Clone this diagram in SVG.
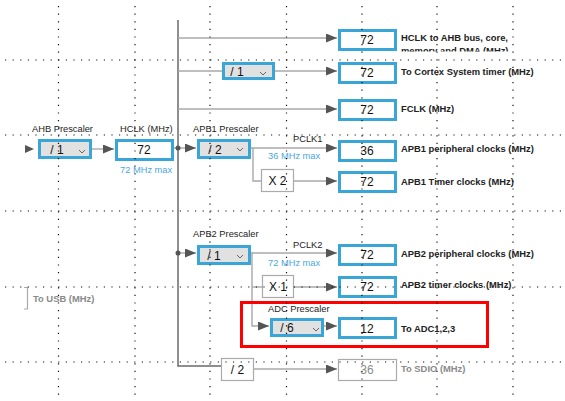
<svg xmlns="http://www.w3.org/2000/svg" width="565" height="401" viewBox="0 0 565 401">
<style>
.lbl{font-family:"Liberation Sans",Arial,sans-serif;font-size:9.3px;fill:#222}
.out{font-family:"Liberation Sans",Arial,sans-serif;font-size:9.4px;font-weight:bold;fill:#222}
.gout{font-family:"Liberation Sans",Arial,sans-serif;font-size:9.4px;font-weight:bold;fill:#8a8a8a}
.max{font-family:"Liberation Sans",Arial,sans-serif;font-size:9.3px;fill:#4aa8e0}
.val{font-family:"Liberation Sans",Arial,sans-serif;font-size:12px;fill:#111;text-anchor:middle}
.gval{font-family:"Liberation Sans",Arial,sans-serif;font-size:12px;fill:#8a8a8a;text-anchor:middle}
.dd{fill:#e1e1e1;stroke:#3aa6d8;stroke-width:3}
.bx{fill:#fff;stroke:#3aa6d8;stroke-width:3}
.gb{fill:#fff;stroke:#aaa;stroke-width:1.2}
.chev{fill:none;stroke:#666;stroke-width:1}
.ln{fill:none;stroke:#a8a8a8;stroke-width:1.4}
.bus{fill:none;stroke:#6a6a6a;stroke-width:1.5}
.grid{stroke:#111;stroke-width:1.2;stroke-dasharray:1.2 6.4}
</style>
<defs>
<marker id="ah" markerUnits="userSpaceOnUse" markerWidth="11" markerHeight="9" refX="11" refY="4.5" orient="auto">
<path d="M0,0 L11,4.5 L0,9 z" fill="#555"/>
</marker>
<clipPath id="c1"><rect x="398" y="25" width="167" height="26.5"/></clipPath>
</defs>
<rect width="565" height="401" fill="#fff"/>

<g id="connectors">
<path class="bus" d="M178,20 V366 H221"/>
<path class="ln" d="M178,38 H337" marker-end="url(#ah)"/>
<path class="ln" d="M178,71 H222"/>
<path class="ln" d="M275,71 H337" marker-end="url(#ah)"/>
<path class="ln" d="M178,109 H337" marker-end="url(#ah)"/>
<path d="M25,145 L34,149 L25,153 z" fill="#555"/>
<path class="ln" d="M92,149 H114" marker-end="url(#ah)"/>
<path class="ln" d="M174,148 H196" marker-end="url(#ah)"/>
<circle cx="178" cy="148" r="2.5" fill="#555"/>
<path class="ln" d="M251,148 H337" marker-end="url(#ah)"/>
<path class="ln" d="M253,148 V181 H261"/>
<path class="ln" d="M294,181 H337" marker-end="url(#ah)"/>
<path class="ln" d="M178,253 H196" marker-end="url(#ah)"/>
<circle cx="178" cy="253" r="2.5" fill="#555"/>
<path class="ln" d="M251,253 H337" marker-end="url(#ah)"/>
<path class="ln" d="M252,253 V326 H269" marker-end="url(#ah)"/>
<path class="ln" d="M252,287 H262"/>
<path class="ln" d="M294,287 H337" marker-end="url(#ah)"/>
<path class="ln" d="M324,326 H337" marker-end="url(#ah)"/>
<path class="ln" d="M254,369 H337" marker-end="url(#ah)"/>
</g>

<g id="ahb-prescaler">
<text class="lbl" x="32" y="132">AHB Prescaler</text>
<rect class="dd" x="39.5" y="140.5" width="51" height="17"/>
<text class="val" x="57" y="154">/ 1</text>
<polyline class="chev" points="79,150 82,153 85,150"/>
</g>

<g id="hclk">
<text class="lbl" x="120" y="132">HCLK (MHz)</text>
<rect class="bx" x="116.5" y="140.5" width="56" height="19"/>
<text class="val" x="144" y="154">72</text>
<text class="max" x="120" y="173">72 MHz max</text>
</g>

<g id="out-ahb">
<rect class="bx" x="339.5" y="30.5" width="56" height="19"/>
<text class="val" x="367" y="44">72</text>
<g clip-path="url(#c1)">
<text class="out" x="401" y="41">HCLK to AHB bus, core,</text>
<text class="out" x="401" y="54">memory and DMA (MHz)</text>
</g>
</g>

<g id="cortex-prescaler">
<rect class="dd" x="223.5" y="63.5" width="50" height="15"/>
<text class="val" x="237" y="76">/ 1</text>
<polyline class="chev" points="260,72 263,75 266,72"/>
</g>

<g id="out-cortex">
<rect class="bx" x="339.5" y="63.5" width="56" height="19"/>
<text class="val" x="367" y="77">72</text>
<text class="out" x="401" y="75">To Cortex System timer (MHz)</text>
</g>

<g id="out-fclk">
<rect class="bx" x="339.5" y="100.5" width="56" height="19"/>
<text class="val" x="367" y="114">72</text>
<text class="out" x="401" y="112">FCLK (MHz)</text>
</g>

<g id="apb1-prescaler">
<text class="lbl" x="193" y="132">APB1 Prescaler</text>
<rect class="dd" x="198.5" y="140.5" width="51" height="17"/>
<text class="val" x="215" y="154">/ 2</text>
<polyline class="chev" points="237,148 240,151 243,148"/>
<text class="lbl" x="293" y="142">PCLK1</text>
<text class="max" x="268" y="159">36 MHz max</text>
</g>

<g id="out-apb1">
<rect class="bx" x="339.5" y="141.5" width="56" height="19"/>
<text class="val" x="367" y="155">36</text>
<text class="out" x="401" y="152">APB1 peripheral clocks (MHz)</text>
</g>

<g id="apb1-x2">
<rect class="gb" x="261.5" y="169.5" width="32" height="22"/>
<text class="val" x="277.5" y="185">X 2</text>
</g>

<g id="out-apb1-timer">
<rect class="bx" x="339.5" y="172.5" width="56" height="19"/>
<text class="val" x="367" y="186">72</text>
<text class="out" x="401" y="185">APB1 Timer clocks (MHz)</text>
</g>

<g id="apb2-prescaler">
<text class="lbl" x="193" y="237">APB2 Prescaler</text>
<rect class="dd" x="198.5" y="246.5" width="51" height="17"/>
<text class="val" x="214" y="260">/ 1</text>
<polyline class="chev" points="237,255 240,258 243,255"/>
<text class="lbl" x="293" y="248">PCLK2</text>
<text class="max" x="268" y="266">72 MHz max</text>
</g>

<g id="out-apb2">
<rect class="bx" x="339.5" y="245.5" width="56" height="19"/>
<text class="val" x="367" y="259">72</text>
<text class="out" x="401" y="257">APB2 peripheral clocks (MHz)</text>
</g>

<g id="apb2-x1">
<rect class="gb" x="262.5" y="275.5" width="31" height="22"/>
<text class="val" x="278" y="291">X 1</text>
</g>

<g id="out-apb2-timer">
<rect class="bx" x="339.5" y="277.5" width="56" height="19"/>
<text class="val" x="367" y="291">72</text>
<text class="out" x="401" y="288">APB2 timer clocks (MHz)</text>
</g>

<g id="adc-prescaler">
<text class="lbl" x="268" y="312">ADC Prescaler</text>
<rect class="dd" x="271.5" y="319.5" width="51" height="16"/>
<text class="val" x="287" y="332">/ 6</text>
<polyline class="chev" points="313,328 316,331 319,328"/>
</g>

<g id="out-adc">
<rect class="bx" x="339.5" y="318.5" width="56" height="19"/>
<text class="val" x="367" y="333">12</text>
<text class="out" x="401" y="332">To ADC1,2,3</text>
</g>

<g id="highlight">
<rect x="241.5" y="302.5" width="246" height="44" fill="none" stroke="#f00" stroke-width="3"/>
</g>

<g id="sdio-div">
<rect class="gb" x="221.5" y="358.5" width="32" height="22"/>
<text class="val" x="237.5" y="374">/ 2</text>
</g>

<g id="out-sdio">
<rect class="gb" x="338.5" y="359.5" width="58" height="21"/>
<text class="gval" x="367" y="374">36</text>
<text class="gout" x="401" y="372">To SDIO (MHz)</text>
</g>

<g id="out-usb">
<path d="M24,287.5 H27.5 V309 H24" fill="none" stroke="#aaa" stroke-width="1.2"/>
<text class="gout" x="33" y="302">To USB (MHz)</text>
</g>

<g id="grid">
<line class="grid" x1="5" y1="60" x2="565" y2="60"/>
<line class="grid" x1="5" y1="135" x2="565" y2="135"/>
<line class="grid" x1="5" y1="211" x2="565" y2="211"/>
<line class="grid" x1="5" y1="287" x2="565" y2="287"/>
<line class="grid" x1="5" y1="362" x2="565" y2="362"/>
<line class="grid" x1="58.5" y1="6" x2="58.5" y2="401"/>
<line class="grid" x1="135" y1="6" x2="135" y2="401"/>
<line class="grid" x1="210" y1="6" x2="210" y2="401"/>
<line class="grid" x1="286.5" y1="6" x2="286.5" y2="401"/>
<line class="grid" x1="362" y1="6" x2="362" y2="401"/>
<line class="grid" x1="437" y1="6" x2="437" y2="401"/>
<line class="grid" x1="513" y1="6" x2="513" y2="401"/>
</g>
</svg>
